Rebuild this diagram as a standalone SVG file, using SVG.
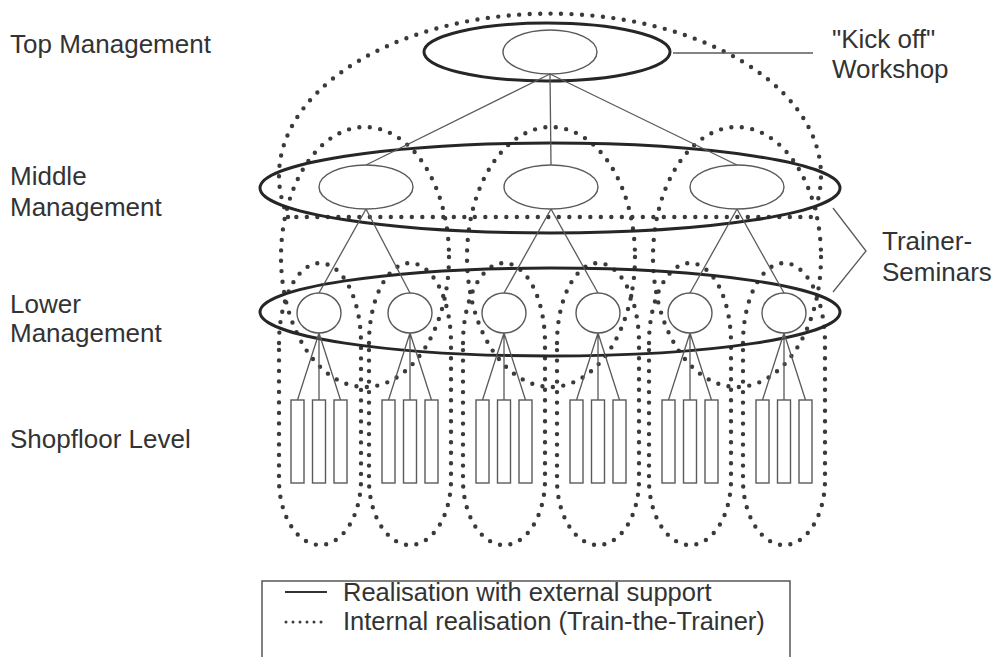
<svg xmlns="http://www.w3.org/2000/svg" width="1003" height="657" viewBox="0 0 1003 657">
  <style>
    .dot { fill: none; stroke: #3a3a3a; stroke-width: 4.4; stroke-dasharray: 0 10.5; stroke-linecap: round; }
    .thick { fill: none; stroke: #262626; stroke-width: 3; }
    .thin { fill: none; stroke: #5a5a5a; stroke-width: 1.3; }
    .node { fill: none; stroke: #5a5a5a; stroke-width: 1.4; }
    .lbl { font-family: "Liberation Sans", Arial, sans-serif; font-size: 26px; fill: #333; }
    .leg { font-family: "Liberation Sans", Arial, sans-serif; font-size: 25.5px; fill: #333; }
  </style>
  <rect width="1003" height="657" fill="#fff"/>

  <g id="dotted-groups">
    <path class="dot" d="M 288 217 A 271 162 0 1 1 812 217 Z"/>
    <ellipse class="dot" cx="365" cy="257" rx="84" ry="130"/>
    <ellipse class="dot" cx="551" cy="257" rx="84" ry="130"/>
    <ellipse class="dot" cx="737" cy="257" rx="84" ry="130"/>
    <path class="dot" d="M 279 343 A 41 80 0 0 1 361 343 L 361 480 A 41 65 0 0 1 279 480 Z"/>
    <path class="dot" d="M 369 343 A 41 80 0 0 1 451 343 L 451 480 A 41 65 0 0 1 369 480 Z"/>
    <path class="dot" d="M 463 343 A 41 80 0 0 1 545 343 L 545 480 A 41 65 0 0 1 463 480 Z"/>
    <path class="dot" d="M 557 343 A 41 80 0 0 1 639 343 L 639 480 A 41 65 0 0 1 557 480 Z"/>
    <path class="dot" d="M 649 343 A 41 80 0 0 1 731 343 L 731 480 A 41 65 0 0 1 649 480 Z"/>
    <path class="dot" d="M 743 343 A 41 80 0 0 1 825 343 L 825 480 A 41 65 0 0 1 743 480 Z"/>
  </g>

  <g id="seminars">
    <ellipse class="thick" cx="547" cy="52" rx="123" ry="29"/>
    <ellipse class="thick" cx="550" cy="188" rx="290" ry="45"/>
    <ellipse class="thick" cx="550" cy="312" rx="290" ry="44"/>
  </g>

  <g id="connectors">
    <line class="thin" x1="550" y1="74" x2="366" y2="165"/>
    <line class="thin" x1="550" y1="74" x2="551" y2="165"/>
    <line class="thin" x1="550" y1="74" x2="737" y2="165"/>
    <line class="thin" x1="366" y1="209" x2="319" y2="293"/>
    <line class="thin" x1="366" y1="209" x2="410" y2="293"/>
    <line class="thin" x1="551" y1="209" x2="504" y2="293"/>
    <line class="thin" x1="551" y1="209" x2="598" y2="293"/>
    <line class="thin" x1="737" y1="209" x2="690" y2="293"/>
    <line class="thin" x1="737" y1="209" x2="784" y2="293"/>
    <path class="thin" d="M319 333 L297.5 400 M319 333 L319 400 M319 333 L340.5 400"/>
    <path class="thin" d="M410 333 L388.5 400 M410 333 L410 400 M410 333 L431.5 400"/>
    <path class="thin" d="M504 333 L482.5 400 M504 333 L504 400 M504 333 L525.5 400"/>
    <path class="thin" d="M598 333 L576.5 400 M598 333 L598 400 M598 333 L619.5 400"/>
    <path class="thin" d="M690 333 L668.5 400 M690 333 L690 400 M690 333 L711.5 400"/>
    <path class="thin" d="M784 333 L762.5 400 M784 333 L784 400 M784 333 L805.5 400"/>
    <line class="thin" x1="673" y1="53" x2="813" y2="53" stroke-width="1.6"/>
    <path class="thin" d="M833 208 L866 251 L833 292" stroke-width="1.6"/>
  </g>

  <g id="top-node"><ellipse class="node" cx="550" cy="52" rx="47" ry="22"/></g>
  <g id="middle-node-1"><ellipse class="node" cx="366" cy="187" rx="47" ry="22"/></g>
  <g id="middle-node-2"><ellipse class="node" cx="551" cy="187" rx="47" ry="22"/></g>
  <g id="middle-node-3"><ellipse class="node" cx="737" cy="187" rx="47" ry="22"/></g>
  <g id="lower-node-1"><ellipse class="node" cx="319" cy="313" rx="22" ry="20"/></g>
  <g id="lower-node-2"><ellipse class="node" cx="410" cy="313" rx="22" ry="20"/></g>
  <g id="lower-node-3"><ellipse class="node" cx="504" cy="313" rx="22" ry="20"/></g>
  <g id="lower-node-4"><ellipse class="node" cx="598" cy="313" rx="22" ry="20"/></g>
  <g id="lower-node-5"><ellipse class="node" cx="690" cy="313" rx="22" ry="20"/></g>
  <g id="lower-node-6"><ellipse class="node" cx="784" cy="313" rx="22" ry="20"/></g>
  <g id="shopfloor-1"><rect class="node" x="291" y="400" width="13" height="83"/><rect class="node" x="312.5" y="400" width="13" height="83"/><rect class="node" x="334" y="400" width="13" height="83"/></g>
  <g id="shopfloor-2"><rect class="node" x="382" y="400" width="13" height="83"/><rect class="node" x="403.5" y="400" width="13" height="83"/><rect class="node" x="425" y="400" width="13" height="83"/></g>
  <g id="shopfloor-3"><rect class="node" x="476" y="400" width="13" height="83"/><rect class="node" x="497.5" y="400" width="13" height="83"/><rect class="node" x="519" y="400" width="13" height="83"/></g>
  <g id="shopfloor-4"><rect class="node" x="570" y="400" width="13" height="83"/><rect class="node" x="591.5" y="400" width="13" height="83"/><rect class="node" x="613" y="400" width="13" height="83"/></g>
  <g id="shopfloor-5"><rect class="node" x="662" y="400" width="13" height="83"/><rect class="node" x="683.5" y="400" width="13" height="83"/><rect class="node" x="705" y="400" width="13" height="83"/></g>
  <g id="shopfloor-6"><rect class="node" x="756" y="400" width="13" height="83"/><rect class="node" x="777.5" y="400" width="13" height="83"/><rect class="node" x="799" y="400" width="13" height="83"/></g>

  <g id="labels">
    <text class="lbl" x="10" y="53">Top Management</text>
    <text class="lbl" x="10" y="185">Middle</text>
    <text class="lbl" x="10" y="216">Management</text>
    <text class="lbl" x="10" y="313">Lower</text>
    <text class="lbl" x="10" y="342">Management</text>
    <text class="lbl" x="10" y="448">Shopfloor Level</text>
    <text class="lbl" x="832" y="48">"Kick off"</text>
    <text class="lbl" x="832" y="78">Workshop</text>
    <text class="lbl" x="882" y="250">Trainer-</text>
    <text class="lbl" x="882" y="281">Seminars</text>
  </g>

  <g id="legend">
    <path d="M 262 660 L 262 581 L 790 581 L 790 660" fill="none" stroke="#555" stroke-width="1.5"/>
    <line x1="285" y1="592" x2="327" y2="592" stroke="#333" stroke-width="2"/>
    <line x1="286" y1="622" x2="326" y2="622" stroke="#3c3c3c" stroke-width="3" stroke-dasharray="0 7" stroke-linecap="round"/>
    <text class="leg" x="343" y="601">Realisation with external support</text>
    <text class="leg" x="343" y="630">Internal realisation (Train-the-Trainer)</text>
  </g>
</svg>
